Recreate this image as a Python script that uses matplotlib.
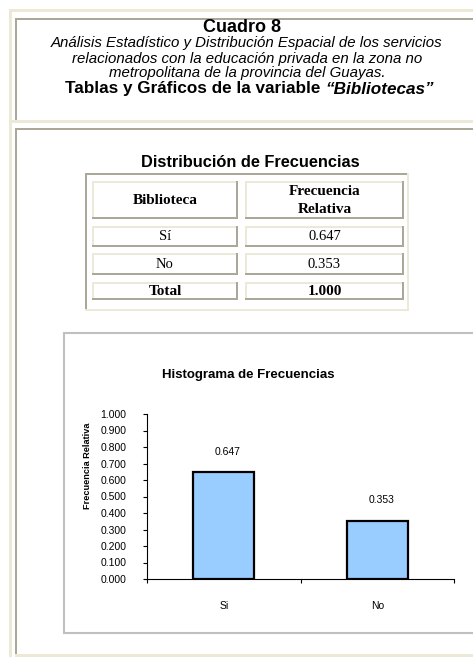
import matplotlib
matplotlib.use("Agg")
import matplotlib.pyplot as plt
from matplotlib.patches import Rectangle
import numpy as np

# ---- data ----
categories = ["Si", "No"]
values = [0.647, 0.353]
table_header = ["Biblioteca", "Frecuencia\nRelativa"]
table_rows = [["Sí", "0.647"], ["No", "0.353"]]
table_total = ["Total", "1.000"]
yticks = [0.0, 0.1, 0.2, 0.3, 0.4, 0.5, 0.6, 0.7, 0.8, 0.9, 1.0]

W, H = 473, 657
DARK = "#aca899"
LIGHT = "#ece9d8"
SANS = "Liberation Sans"
SERIF = "Liberation Serif"

fig = plt.figure(figsize=(W / 100, H / 100), dpi=100)
fig.patch.set_facecolor("white")
bg = fig.add_axes([0, 0, 1, 1])
bg.set_xlim(0, W)
bg.set_ylim(H, 0)
bg.axis("off")


def rect(x0, y0, x1, y1, color, z=1):
    bg.add_patch(Rectangle((x0, y0), x1 - x0, y1 - y0, facecolor=color,
                           edgecolor="none", zorder=z))


# ---- page frame ----
rect(9, 9, 12, H, LIGHT)          # outer left
rect(9, 9, W, 12, LIGHT)          # outer top
rect(9, 120, W, 123, LIGHT)       # between cells
rect(15, 654, W, 657, LIGHT)      # bottom
rect(15, 18, W, 20, DARK)         # top cell top
rect(15, 18, 17, 120, DARK)       # top cell left
rect(15, 128, W, 130, DARK)       # bottom cell top
rect(15, 128, 17, 654, DARK)      # bottom cell left

# ---- header texts ----
bg.text(242, 32.5, "Cuadro 8", fontsize=13, fontweight="bold", family=SANS,
        ha="center", va="baseline")
sub = ["Análisis Estadístico y Distribución Espacial de los servicios",
       "relacionados con la educación privada en la zona no",
       "metropolitana de la provincia del Guayas."]
for i, s in enumerate(sub):
    bg.text(247, 47.5 + 15 * i, s, fontsize=10.8, style="italic", family=SANS,
            ha="center", va="baseline")

fig.canvas.draw()
r = fig.canvas.get_renderer()
t1 = bg.text(0, 93.5, "Tablas y Gráficos de la variable ", fontsize=12.3,
             fontweight="bold", family=SANS, ha="left", va="baseline")
t2 = bg.text(0, 93.5, "“Bibliotecas”", fontsize=12.3, fontweight="bold",
             style="italic", family=SANS, ha="left", va="baseline")
w1 = t1.get_window_extent(r).width
w2 = t2.get_window_extent(r).width
x0 = 249.5 - (w1 + w2) / 2
t1.set_x(x0)
t2.set_x(x0 + w1)

bg.text(250, 167, "Distribución de Frecuencias", fontsize=11.8,
        fontweight="bold", family=SANS, ha="center", va="baseline")

# ---- table ----
rect(85, 173, 409, 175, DARK)
rect(85, 173, 87, 311, DARK)
rect(407, 173, 409, 311, LIGHT)
rect(85, 309, 409, 311, LIGHT)

cols = [(92, 238), (245, 404)]
rows = [(181, 219), (226, 247), (253, 275), (282, 300)]


def cell(x0, y0, x1, y1):
    rect(x0, y0, x1, y0 + 2, LIGHT)
    rect(x0, y0, x0 + 2, y1, LIGHT)
    rect(x0, y1 - 2, x1, y1, DARK)
    rect(x1 - 2, y0, x1, y1, DARK)


all_rows = [table_header] + table_rows + [table_total]
for ri, (ya, yb) in enumerate(rows):
    for ci, (xa, xb) in enumerate(cols):
        cell(xa, ya, xb, yb)
        bold = ri == 0 or ri == len(rows) - 1
        bg.text((xa + xb) / 2, (ya + yb) / 2 + 0.5, all_rows[ri][ci],
                fontsize=11 if bold else 10.5, family=SERIF,
                fontweight="bold" if bold else "normal",
                ha="center", va="center", linespacing=1.45)

# ---- chart box ----
bg.add_patch(Rectangle((63.5, 332.5), 500, 300.5, facecolor="white",
                       edgecolor="#c0c0c0", linewidth=1.5, zorder=1))
bg.text(248.5, 375, "Histograma de Frecuencias", fontsize=9.5,
        fontweight="bold", family=SANS, ha="center", va="center")
bg.text(87, 466, "Frecuencia Relativa", fontsize=6.6, fontweight="bold",
        family=SANS, ha="center", va="center", rotation=90)

ax_l, ax_r, ax_t, ax_b = 147, 454, 414, 579
ax = fig.add_axes([ax_l / W, (H - ax_b) / H, (ax_r - ax_l) / W,
                   (ax_b - ax_t) / H])
ax.patch.set_alpha(0)
x = np.arange(len(categories))
ax.bar(x, values, width=0.4, color="#99ccff", edgecolor="black",
       linewidth=1.6, zorder=3)
ax.set_xlim(-0.5, len(categories) - 0.5)
ax.set_ylim(0, 1.0)
ax.set_yticks(yticks)
ax.set_yticklabels([f"{v:.3f}" for v in yticks], family=SANS, fontsize=7.5)
ax.set_xticks(x)
ax.set_xticklabels(categories, family=SANS, fontsize=7.5)
ax.set_xticks(np.arange(len(categories) + 1) - 0.5, minor=True)
ax.tick_params(axis="x", which="major", length=0, pad=16)
ax.tick_params(axis="x", which="minor", length=3, width=0.8, direction="out")
ax.tick_params(axis="y", length=3, width=0.8, direction="out", pad=12)
for s in ["top", "right"]:
    ax.spines[s].set_visible(False)
for s in ["left", "bottom"]:
    ax.spines[s].set_linewidth(0.8)
for xi, v in zip(x, values):
    ax.annotate(f"{v:.3f}", (xi, v), xytext=(3, 11), textcoords="offset points",
                ha="center", va="bottom", fontsize=7.5, family=SANS)

fig.savefig("out.png", dpi=100, facecolor="white")
